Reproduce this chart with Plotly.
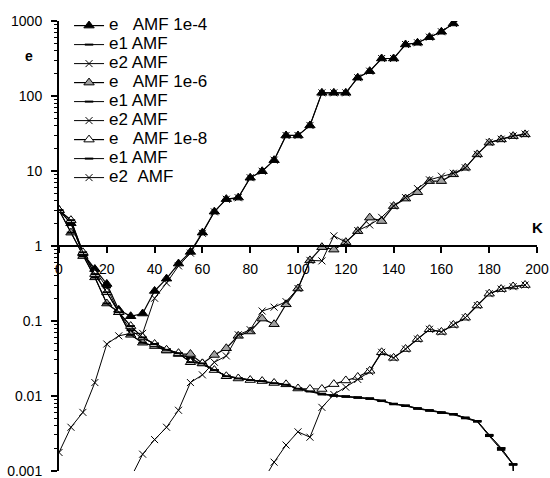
import plotly.graph_objects as go

# ---------------- data ----------------
K = [0, 5, 10, 15, 20, 25, 30, 35, 40, 45, 50, 55, 60, 65, 70, 75, 80, 85, 90, 95,
     100, 105, 110, 115, 120, 125, 130, 135, 140, 145, 150, 155, 160, 165, 170, 175,
     180, 185, 190, 195]

# tolerance 1e-4
K_1e4 = K[:35]
e_1e4 = [3.0, 2.0, 0.79, 0.49, 0.31, 0.14, 0.115, 0.125, 0.25, 0.365, 0.58, 0.83, 1.5,
         2.86, 4.2, 4.4, 8.1, 9.9, 13.9, 29.7, 29.7, 40.4, 110, 110, 110, 175, 214, 316,
         316, 486, 512, 608, 718, 927, 1200]
e1_1e4 = [3.0, 2.0, 0.79, 0.47, 0.28, 0.13, 0.075, 0.058, 0.05, 0.042, 0.037, 0.031,
          0.026, 0.022, 0.0185, 0.0172, 0.0162, 0.0156, 0.0146, 0.014, 0.0125, 0.0116,
          0.0106, 0.0101, 0.0098, 0.0095, 0.0092, 0.0086, 0.0078, 0.0074, 0.0068, 0.0064,
          0.006, 0.0057, 0.0051, 0.0046, 0.003, 0.002, 0.00122, 1e-9]
e2_1e4 = [0.00175, 0.0038, 0.006, 0.015, 0.049, 0.063, 0.068, 0.068, 0.2, 0.32, 0.54, 0.8,
          1.47, 2.84, 4.18, 4.38, 8.1, 9.9, 13.9, 29.7, 29.7, 40.4, 110, 110, 110, 175,
          214, 316, 316, 486, 512, 608, 718, 927, 1200]

# tolerance 1e-6
e_1e6 = [3.0, 1.5, 0.73, 0.38, 0.17, 0.13, 0.065, 0.051, 0.046, 0.04, 0.036, 0.036, 0.027,
         0.035, 0.043, 0.063, 0.072, 0.107, 0.09, 0.166, 0.27, 0.64, 0.96, 0.89, 1.12, 1.57,
         2.38, 2.14, 3.39, 4.27, 5.2, 7.3, 7.3, 9.0, 11.0, 16.6, 23.8, 26.3, 29.1, 30.7]
e1_1e6 = [3.0, 1.5, 0.73, 0.38, 0.17, 0.13, 0.065, 0.051, 0.046, 0.04, 0.036, 0.032, 0.026,
          0.022, 0.0185, 0.0172, 0.0162, 0.0156, 0.0146, 0.014, 0.0125, 0.0116, 0.0106,
          0.0101, 0.0098, 0.0095, 0.0092, 0.0086, 0.0078, 0.0074, 0.0068, 0.0064, 0.006,
          0.0057, 0.0051, 0.0046, 0.003, 0.002, 0.00122, 1e-9]
K_e2_1e6 = K[6:]
e2_1e6 = [0.0008, 0.00166, 0.0026, 0.0038, 0.0064, 0.015, 0.019, 0.028, 0.034, 0.065, 0.076,
          0.135, 0.152, 0.18, 0.27, 0.64, 0.63, 1.36, 1.12, 1.6, 1.9, 2.4, 3.4, 4.4, 5.8,
          7.6, 8.5, 9.3, 11.0, 16.6, 24.0, 26.5, 29.3, 31.0]

# tolerance 1e-8
e_1e8 = [3.0, 2.2, 0.82, 0.42, 0.24, 0.13, 0.085, 0.06, 0.049, 0.041, 0.037, 0.028, 0.027,
         0.022, 0.0182, 0.017, 0.0162, 0.0157, 0.0148, 0.0142, 0.0125, 0.0123, 0.0123,
         0.0143, 0.016, 0.0178, 0.0215, 0.038, 0.032, 0.042, 0.057, 0.077, 0.071, 0.088,
         0.11, 0.16, 0.23, 0.265, 0.287, 0.30]
e1_1e8 = [3.0, 2.2, 0.82, 0.42, 0.24, 0.13, 0.085, 0.06, 0.049, 0.041, 0.037, 0.028, 0.027,
          0.022, 0.0182, 0.017, 0.0162, 0.0157, 0.0147, 0.014, 0.0124, 0.0114, 0.0104,
          0.01, 0.0097, 0.0094, 0.0091, 0.0085, 0.0077, 0.0073, 0.0067, 0.0063, 0.0059,
          0.0056, 0.005, 0.0045, 0.0029, 0.0019, 0.0012, 1e-9]
K_e2_1e8 = K[17:]
e2_1e8 = [0.0007, 0.0013, 0.0022, 0.0033, 0.0028, 0.007, 0.0104, 0.013, 0.0165, 0.021, 0.038,
          0.032, 0.042, 0.057, 0.077, 0.071, 0.088, 0.11, 0.16, 0.23, 0.265, 0.285, 0.30]

names = ["e\u00a0\u00a0\u00a0AMF 1e-4", "e1 AMF", "e2 AMF",
         "e\u00a0\u00a0\u00a0AMF 1e-6", "e1 AMF", "e2 AMF",
         "e\u00a0\u00a0\u00a0AMF 1e-8", "e1 AMF", "e2\u00a0\u00a0AMF"]

y_tickvals = [0.001, 0.01, 0.1, 1, 10, 100, 1000]
y_ticktext = ["0.001", "0.01", "0.1", "1", "10", "100", "1000"]
x_ticks = [0, 20, 40, 60, 80, 100, 120, 140, 160, 180, 200]

# ---------------- styling ----------------
FONT = "Liberation Sans, Arial, sans-serif"
GRAY = "#a0a0a0"


def lab(s):
    return '<span style="font-size:17px">' + s + "</span>"


def tri(fill):
    return dict(symbol="triangle-up", size=9, color=fill, line=dict(color="black", width=1))


dash_marker = dict(symbol="line-ew", size=6, color="black", line=dict(color="black", width=2))
x_marker = dict(symbol="x-thin", size=7, color="black", line=dict(color="black", width=1))

series = [
    (K_1e4, e_1e4, tri("black"), 1.2),
    (K, e1_1e4, dash_marker, 1.0),
    (K_1e4, e2_1e4, x_marker, 1.0),
    (K, e_1e6, tri(GRAY), 1.2),
    (K, e1_1e6, dash_marker, 1.0),
    (K_e2_1e6, e2_1e6, x_marker, 1.0),
    (K, e_1e8, tri("white"), 1.2),
    (K, e1_1e8, dash_marker, 1.0),
    (K_e2_1e8, e2_1e8, x_marker, 1.0),
]

fig = go.Figure()
for (xs, ys, mk, lw), nm in zip(series, names):
    fig.add_trace(go.Scatter(x=xs, y=ys, name=lab(nm), mode="lines+markers",
                             line=dict(color="black", width=lw), marker=mk))

minor_vals = [m * 10 ** d for d in range(-3, 3) for m in range(2, 10)]

fig.update_layout(
    width=550, height=478,
    margin=dict(l=59, r=13, t=21, b=7, autoexpand=False),
    paper_bgcolor="white", plot_bgcolor="white",
    font=dict(family=FONT, size=14, color="black"),
    showlegend=True,
    legend=dict(x=0.021, y=1.022, xanchor="left", yanchor="top",
                bgcolor="rgba(0,0,0,0)", borderwidth=0,
                font=dict(family=FONT, size=12, color="black"),
                tracegroupgap=0, itemwidth=30),
    xaxis=dict(range=[0, 200], tickvals=x_ticks, anchor="free", position=0.5,
               showline=True, linecolor="black", linewidth=2,
               ticks="outside", ticklen=6, tickwidth=1.5, tickcolor="black",
               showgrid=False, zeroline=False, ticklabelstandoff=4, automargin=False,
               tickfont=dict(family=FONT, size=14, color="black")),
    yaxis=dict(type="log", range=[-3.004, 3.0], tickvals=y_tickvals, ticktext=y_ticktext,
               showline=True, linecolor="black", linewidth=2,
               ticks="outside", ticklen=6, tickwidth=1.5, tickcolor="black",
               showgrid=False, zeroline=False, ticklabelstandoff=6,
               ticklabeloverflow="allow", automargin=False,
               minor=dict(tickvals=minor_vals, ticks="outside", ticklen=3,
                          tickwidth=1, tickcolor="black", showgrid=False),
               tickfont=dict(family=FONT, size=14, color="black")),
    annotations=[
        dict(text="<b>e</b>", x=-0.0628, y=0.922, xref="paper", yref="paper",
             xanchor="center", yanchor="middle",
             showarrow=False, font=dict(family=FONT, size=14, color="black")),
        dict(text="<b>K</b>", x=1.0, y=0.541, xref="paper", yref="paper",
             xanchor="center", yanchor="middle",
             showarrow=False, font=dict(family=FONT, size=15, color="black")),
    ],
)

fig.write_html("out.html")
